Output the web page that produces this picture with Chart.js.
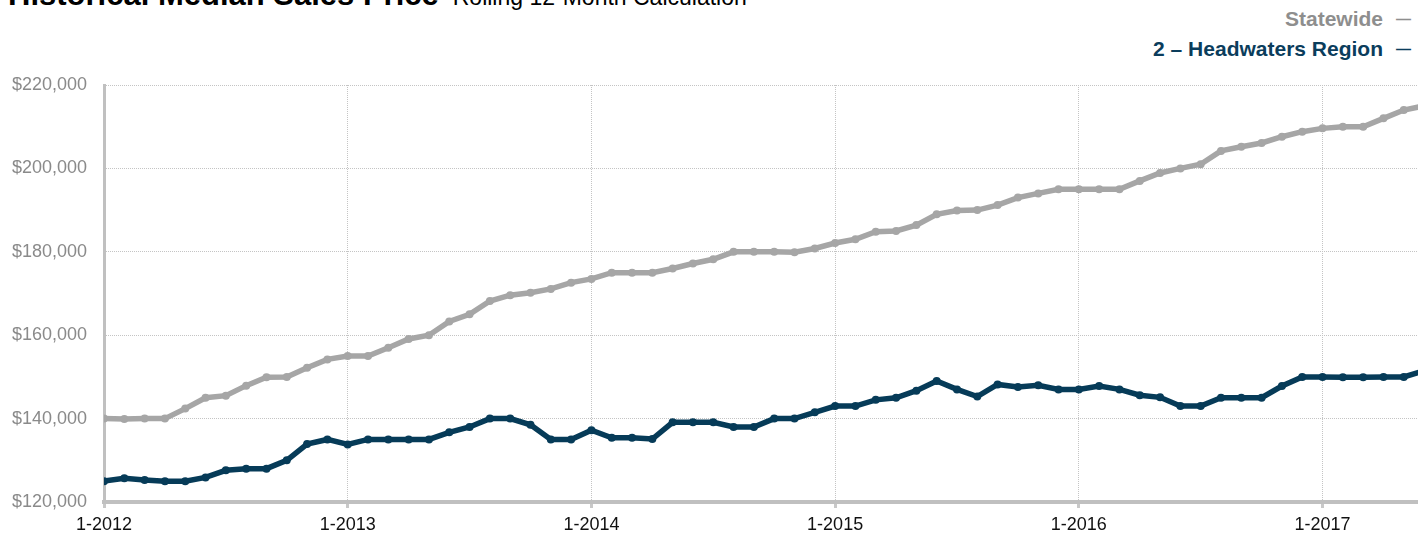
<!DOCTYPE html>
<html>
<head>
<meta charset="utf-8">
<script src="https://cdn.jsdelivr.net/npm/chart.js@4.4.1/dist/chart.umd.min.js"></script>
<style>
html,body{margin:0;padding:0;width:1418px;height:533px;overflow:hidden;background:#fff;font-family:"Liberation Sans",Arial,Helvetica,sans-serif;}
#title{position:absolute;left:8px;top:-21px;white-space:nowrap;line-height:31px;color:#000;}
#title b{font-size:31px;font-weight:bold;}
#title span{font-size:23px;margin-left:14px;}
#legend{position:absolute;right:7px;top:4px;text-align:right;font-weight:bold;font-size:21px;line-height:30px;white-space:nowrap;}
#legend .dash{margin-left:13px;font-size:15px;vertical-align:2px;}
#legend .s{color:#8e8e8e;}
#legend .h{color:#0b3d5c;}
canvas{position:absolute;left:0;top:0;}
</style>
</head>
<body>
<div id="title"><b>Historical Median Sales Price</b><span>Rolling 12-Month Calculation</span></div>
<div id="legend">
  <div class="s">Statewide<span class="dash">—</span></div>
  <div class="h">2 – Headwaters Region<span class="dash">—</span></div>
</div>
<canvas id="c" width="1418" height="533"></canvas>
<script>
const months = [
  "1-2012","2-2012","3-2012","4-2012","5-2012","6-2012","7-2012","8-2012","9-2012","10-2012","11-2012","12-2012",
  "1-2013","2-2013","3-2013","4-2013","5-2013","6-2013","7-2013","8-2013","9-2013","10-2013","11-2013","12-2013",
  "1-2014","2-2014","3-2014","4-2014","5-2014","6-2014","7-2014","8-2014","9-2014","10-2014","11-2014","12-2014",
  "1-2015","2-2015","3-2015","4-2015","5-2015","6-2015","7-2015","8-2015","9-2015","10-2015","11-2015","12-2015",
  "1-2016","2-2016","3-2016","4-2016","5-2016","6-2016","7-2016","8-2016","9-2016","10-2016","11-2016","12-2016",
  "1-2017","2-2017","3-2017","4-2017","5-2017","6-2017"
];
const xTickLabels = ["1-2012","1-2013","1-2014","1-2015","1-2016","1-2017"];
const yTicks = [120000,140000,160000,180000,200000,220000];

const statewide = [
  140000,139900,140000,140000,142400,145000,145500,147900,149900,150000,152200,154200,
  155000,155000,157000,159100,160000,163300,165000,168200,169600,170200,171100,172600,
  173500,175000,175000,175000,176000,177200,178200,180000,180000,180000,179900,180800,
  182100,183000,184800,185000,186400,189000,189900,190000,191200,193000,194000,195000,
  195000,195000,195000,197000,198900,200000,201000,204200,205200,206100,207600,208800,
  209600,210000,210000,212000,214000,215000
];
const headwaters = [
  125000,125700,125300,125000,125000,125900,127600,128000,128000,130000,133900,135000,
  133800,135000,135000,135000,135000,136700,138000,140000,140000,138500,135000,135000,
  137200,135400,135400,135100,139100,139100,139100,138000,138000,140000,140000,141500,
  143000,143000,144500,145000,146700,149000,147000,145300,148200,147600,148000,147000,
  147000,147800,147000,145600,145100,143000,143000,145000,145000,145000,147800,150000,
  150000,149900,149900,150000,150000,151500
];

const FONT = '"Liberation Sans", Arial, Helvetica, sans-serif';
Chart.defaults.font.family = FONT;

function series(arr){ return arr.map((v,i)=>({x:i,y:v})); }
function ds(label, arr, color){
  return {label, data:series(arr), borderColor:color, backgroundColor:color,
    borderWidth:5.5, pointRadius:4, pointHoverRadius:4, pointBorderWidth:0,
    pointBackgroundColor:color, tension:0, fill:false};
}

new Chart(document.getElementById('c'), {
  type:'line',
  data:{datasets:[
    ds('Statewide', statewide, '#a6a6a6'),
    ds('2 – Headwaters Region', headwaters, '#063b58')
  ]},
  options:{
    responsive:false, maintainAspectRatio:false, animation:false,
    layout:{autoPadding:false, padding:{top:85,left:0,right:0,bottom:0}},
    plugins:{legend:{display:false}, title:{display:false}, tooltip:{enabled:false}},
    scales:{
      x:{
        type:'linear', min:0, max:64.7,
        afterBuildTicks:s=>{ s.ticks = xTickLabels.map(l=>({value:months.indexOf(l)})); },
        afterFit:s=>{ s.height = 31; s.paddingLeft = 0; s.paddingRight = 0; },
        ticks:{autoSkip:false, maxRotation:0, stepSize:12, color:'#111', font:{size:18}, padding:6,
          callback:v=>months[v]},
        grid:{color:'#c4c4c4', lineWidth:1, drawTicks:true, tickLength:6, tickWidth:3, tickColor:'#c8c8c8', tickBorderDash:[]},
        border:{display:true, color:'#c0c0c0', width:4, dash:[1,1]}
      },
      y:{
        min:120000, max:220000,
        afterBuildTicks:s=>{ s.ticks = yTicks.map(v=>({value:v})); },
        afterFit:s=>{ s.width = 104; s.paddingTop = 0; s.paddingBottom = 0; },
        ticks:{color:'#8a8a8a', font:{size:18}, padding:17,
          callback:v=>'$'+Number(v).toLocaleString('en-US')},
        grid:{color:'#c4c4c4', lineWidth:1, drawTicks:false},
        border:{display:true, color:'#c0c0c0', width:3, dash:[1,1]}
      }
    }
  }
});
</script>
</body>
</html>
